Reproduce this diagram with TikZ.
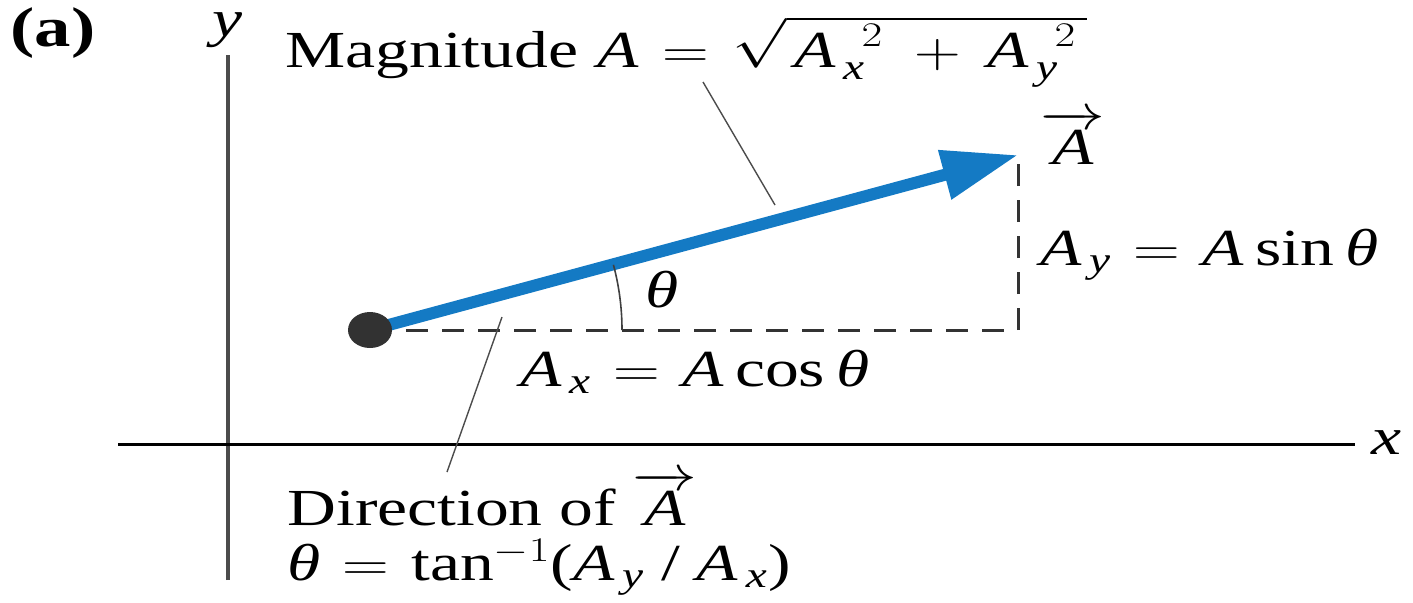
\documentclass[tikz,border=0pt]{standalone}
\usepackage{amsmath}
\usepackage{fontspec}
\setmainfont{Liberation Serif}
\usetikzlibrary{arrows.meta}
\definecolor{vecblue}{RGB}{20,122,196}
\definecolor{dotgray}{RGB}{50,50,50}
\newcommand\sx[1]{\scalebox{1.3}[1]{#1}}
\newcommand\iA{\textit{A}}
\newcommand\ith{\textit{θ}}
\newcommand\eqs{\kern8.5pt$=$\kern8.5pt}
\begin{document}
\begin{tikzpicture}[x=0.5pt,y=-0.5pt,
  lbl/.style={inner sep=0pt, font=\fontsize{26}{30}\selectfont},
  leader/.style={draw=black!70, line width=0.7pt},
  dashline/.style={line width=1.5pt, dash pattern=on 11pt off 7pt, draw=black!80}]
\useasboundingbox (0,0) rectangle (1413,602);
\node[lbl, anchor=base west, font=\fontsize{28}{32}\selectfont\bfseries] (tag) at (10,46) {\sx{(a)}};
\coordinate (yb) at (228,580); \coordinate (yt) at (228,55);
\draw[line width=2pt, black!70] (yb) -- (yt);
\node[lbl, anchor=base] (ylab) at (228,36) {\sx{\textit{y}}};
\coordinate (xl) at (118,444); \coordinate (xr) at (1355,444);
\draw[line width=1.5pt] (xl) -- (xr);
\node[lbl, anchor=base] (xlab) at (1386,454) {\sx{\textit{x}}};
\coordinate (O) at (370,330);
\coordinate (T) at (1018,155);
\coordinate (C) at (1018,330);
\draw[dashline] (O) -- (C) -- (T);
\draw[vecblue, line width=6pt, -{Triangle[length=38pt,width=24pt]}] (O) -- (T);
\fill[dotgray] (O) ellipse[x radius=11pt, y radius=9pt];
\draw[line width=0.8pt, black!75] (622,330) arc[start angle=0,end angle=15,radius=126pt];
\node[lbl, anchor=base west] (mag) at (285,67) {\sx{Magnitude\ \kern1pt\iA\kern9pt$=$\kern9pt$\sqrt{\vphantom{\iA^{2}}\smash{\kern3pt\iA_{\,\textit{x}}^{\kern10pt 2}\kern12pt{+}\kern10pt\iA_{\,\textit{y}}^{\kern10pt 2}\kern4pt}}$}};
\coordinate (m1) at (703,82); \coordinate (m2) at (775,205);
\draw[leader] (m1) -- (m2);
\coordinate (d1) at (502,317); \coordinate (d2) at (447,472);
\draw[leader] (d1) -- (d2);
\node[lbl, anchor=base west] (Avec) at (1040,164) {\sx{$\overrightarrow{\iA}$}};
\node[lbl, anchor=base west] (Ay) at (1040,265) {\sx{$\iA_{\,\textit{y}}$\eqs\iA\,sin\,\ith}};
\node[lbl] (th) at (662,290) {\sx{\ith}};
\node[lbl, anchor=base west] (Ax) at (520,386) {\sx{$\iA_{\,\textit{x}}$\eqs\iA\,cos\,\ith}};
\node[lbl, anchor=base west] (dir) at (287,525) {\sx{Direction of $\overrightarrow{\iA}$}};
\node[lbl, anchor=base west] (tan) at (287,580) {\sx{\ith\eqs tan$^{-1}$($\iA_{\,\textit{y}}$ / $\iA_{\,\textit{x}}$)}};
\end{tikzpicture}
\end{document}
